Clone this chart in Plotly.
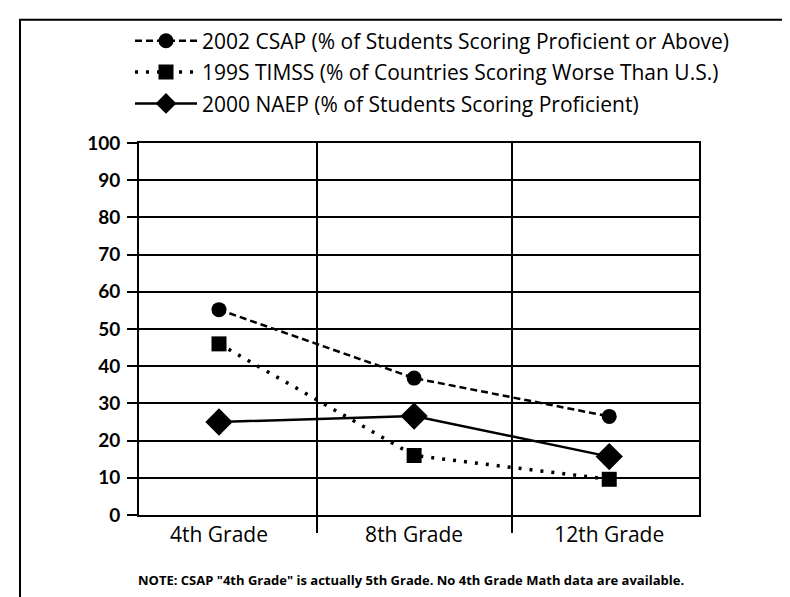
import plotly.graph_objects as go

grades = ["4th Grade", "8th Grade", "12th Grade"]
x_pos = [0, 1, 2]
csap = [55.2, 36.8, 26.5]
timss = [46.0, 16.0, 9.6]
naep = [25.0, 26.6, 15.7]
y_ticks = [0, 10, 20, 30, 40, 50, 60, 70, 80, 90, 100]
dividers = [0.5, 1.5]

W, H = 790, 597
ML, MR, MT, MB = 131, 99, 130, 90
PW = W - ML - MR
PH = H - MT - MB

def px_to_paper_x(px):
    return (px - ML) / PW

def px_to_paper_y(py):
    return (H - MB - py) / PH

fig = go.Figure()
fig.add_trace(go.Scatter(
    x=x_pos, y=csap, mode="lines+markers", legendgroup="a",
    name="2002 CSAP (% of Students Scoring Proficient or Above)",
    line=dict(color="black", width=2.5, dash="7px,4px"),
    marker=dict(symbol="circle", size=15, color="black"),
))
fig.add_trace(go.Scatter(
    x=x_pos, y=timss, mode="lines+markers", legendgroup="b",
    name="199S TIMSS (% of Countries Scoring Worse Than U.S.)",
    line=dict(color="black", width=3.5, dash="3px,8px"),
    marker=dict(symbol="square", size=15, color="black"),
))
fig.add_trace(go.Scatter(
    x=x_pos, y=naep, mode="lines+markers", legendgroup="c",
    name="2000 NAEP (% of Students Scoring Proficient)",
    line=dict(color="black", width=2.5),
    marker=dict(symbol="diamond", size=21, color="black"),
))

fig.update_layout(
    width=W, height=H,
    margin=dict(l=ML, r=MR, t=MT, b=MB),
    paper_bgcolor="white", plot_bgcolor="white",
    font=dict(family="Open Sans", color="black"),
    showlegend=True,
    legend=dict(
        x=px_to_paper_x(122), y=px_to_paper_y(6), xanchor="left", yanchor="top",
        font=dict(family="Open Sans", size=21, color="black"),
        bgcolor="rgba(0,0,0,0)", itemwidth=62, tracegroupgap=1,
        traceorder="grouped",
    ),
    xaxis=dict(
        range=[-0.41, 2.46],
        tickmode="array", tickvals=x_pos, ticktext=grades,
        ticks="", showgrid=False, zeroline=False,
        showline=True, linecolor="black", linewidth=2, mirror=True,
        tickfont=dict(family="Open Sans", size=21, color="black"),
        minor=dict(tickmode="array", tickvals=dividers, ticks="outside",
                   ticklen=16, tickwidth=2, tickcolor="black",
                   showgrid=True, gridcolor="black", gridwidth=2),
    ),
    yaxis=dict(
        range=[0, 100], tickmode="array", tickvals=y_ticks,
        ticks="outside", ticklen=10, tickwidth=2, tickcolor="black",
        showgrid=True, gridcolor="black", gridwidth=2, zeroline=False,
        showline=True, linecolor="black", linewidth=2, mirror=True,
        tickfont=dict(family="Lato", size=19, color="black", weight="bold"),
        ticklabelstandoff=3,
    ),
    annotations=[dict(
        text='NOTE: CSAP "4th Grade" is actually 5th Grade. No 4th Grade Math data are available.',
        xref="paper", yref="paper", x=px_to_paper_x(403), y=px_to_paper_y(573),
        xanchor="center", yanchor="middle", showarrow=False,
        font=dict(family="Open Sans", size=13, color="black", weight="bold"),
    )],
    shapes=[dict(
        type="rect", xref="paper", yref="paper",
        x0=px_to_paper_x(12), x1=px_to_paper_x(820),
        y0=px_to_paper_y(640), y1=px_to_paper_y(5),
        line=dict(color="black", width=2), fillcolor="rgba(0,0,0,0)", layer="below",
    )],
)

fig.write_html("out.html")
